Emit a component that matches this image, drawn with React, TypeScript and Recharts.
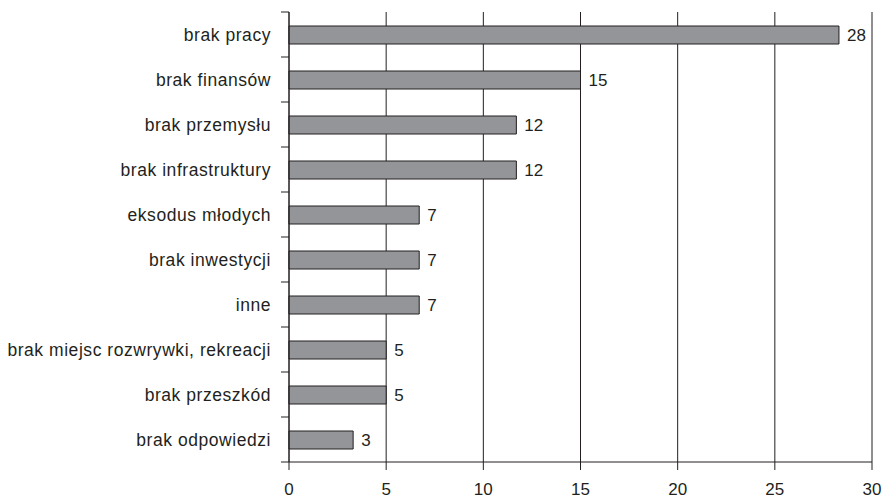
import React from "react";
import { BarChart, Bar, XAxis, YAxis, CartesianGrid, LabelList } from "recharts";

const categories = [
  "brak pracy",
  "brak finansów",
  "brak przemysłu",
  "brak infrastruktury",
  "eksodus młodych",
  "brak inwestycji",
  "inne",
  "brak miejsc rozwrywki, rekreacji",
  "brak przeszkód",
  "brak odpowiedzi",
];
const values = [28.3, 15, 11.7, 11.7, 6.7, 6.7, 6.7, 5, 5, 3.3];
const xTicks = [0, 5, 10, 15, 20, 25, 30];

const data = categories.map((name, i) => ({ name, value: values[i] }));

const WIDTH = 884;
const HEIGHT = 498;
const MARGIN = { top: 12, right: 12, bottom: 0, left: 0 };
const X_AXIS_H = 36;
const Y_AXIS_W = 289;
const TICK = 8;
const INK = "#231f20";
const FONT = "'Liberation Sans', Arial, sans-serif";

const band = (HEIGHT - MARGIN.top - MARGIN.bottom - X_AXIS_H) / categories.length;

// category labels plus the small marks between the categories
const CategoryTick = (props: any) => {
  const { x, y, payload, index } = props;
  const axisX = MARGIN.left + Y_AXIS_W;
  return (
    <g>
      <line x1={axisX - TICK} x2={axisX} y1={y - band / 2} y2={y - band / 2} stroke={INK} />
      {index === categories.length - 1 && (
        <line x1={axisX - TICK} x2={axisX} y1={y + band / 2} y2={y + band / 2} stroke={INK} />
      )}
      <text
        x={x}
        y={y}
        dy="0.36em"
        textAnchor="end"
        fill={INK}
        fontSize={17.5}
        letterSpacing={0.55}
        fontFamily={FONT}
      >
        {payload.value}
      </text>
    </g>
  );
};

export default function App() {
  return (
    <div style={{ position: "absolute", left: 0, top: 0, background: "#fff" }}>
      <BarChart
        width={WIDTH}
        height={HEIGHT}
        data={data}
        layout="vertical"
        margin={MARGIN}
        barSize={18}
      >
        <CartesianGrid horizontal={false} stroke={INK} strokeWidth={1} />
        <XAxis
          type="number"
          domain={[0, 30]}
          ticks={xTicks}
          height={X_AXIS_H}
          tickSize={TICK}
          tickMargin={13}
          stroke={INK}
          tick={{ fontSize: 17, fill: INK, fontFamily: FONT }}
        />
        <YAxis
          type="category"
          dataKey="name"
          width={Y_AXIS_W}
          tickSize={TICK}
          tickMargin={10}
          tickLine={false}
          stroke={INK}
          interval={0}
          tick={<CategoryTick />}
        />
        <Bar dataKey="value" fill="#939598" stroke={INK} strokeWidth={1} isAnimationActive={false}>
          <LabelList
            dataKey="value"
            position="right"
            offset={8}
            formatter={(v: any) => Math.round(Number(v))}
            style={{ fontSize: 17, fill: INK, fontFamily: FONT }}
          />
        </Bar>
      </BarChart>
    </div>
  );
}
